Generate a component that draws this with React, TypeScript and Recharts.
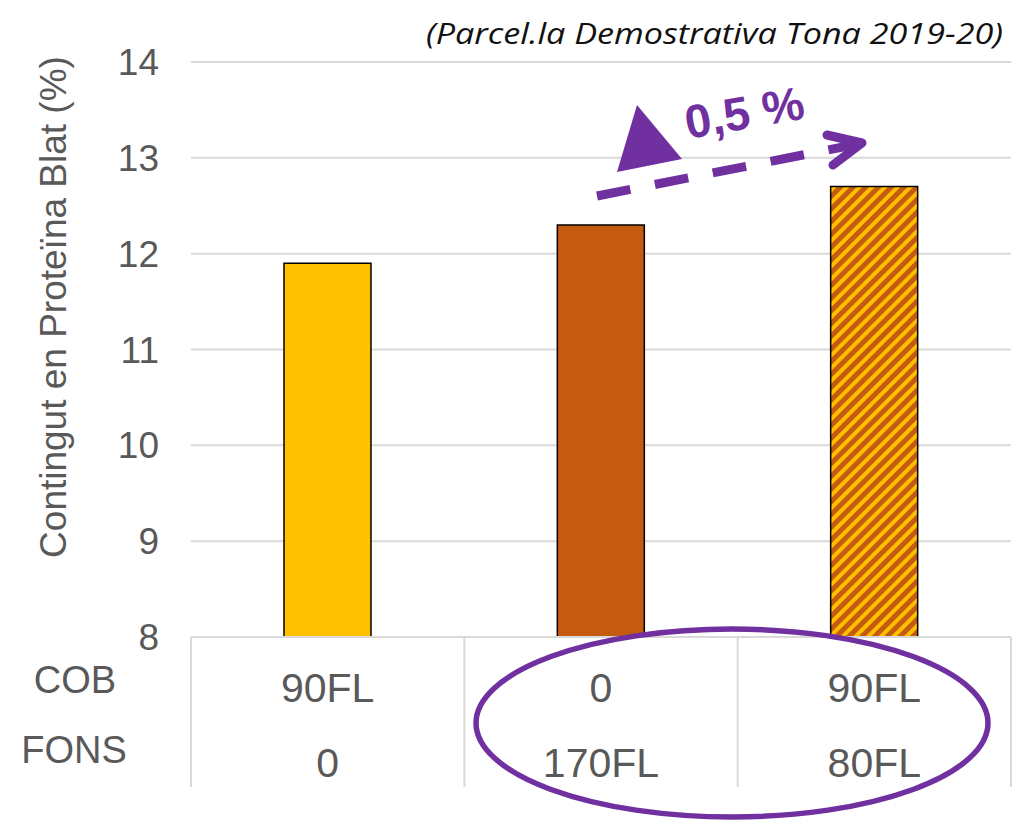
import { Bar, BarChart, CartesianGrid, Cell, XAxis, YAxis } from "recharts";

const cobDoses = ["90FL", "0", "90FL"];
const fonsDoses = ["0", "170FL", "80FL"];
const proteina = [11.9, 12.3, 12.7];
const barFills = ["#FFC000", "#C55A11", "url(#ratllat)"];
const yTicks = [8, 9, 10, 11, 12, 13, 14];
const rowLabels = ["COB", "FONS"];
const title = "(Parcel.la Demostrativa Tona 2019-20)";
const yLabel = "Contingut en Proteïna Blat (%)";
const increment = "0,5 %";

const W = 1025;
const H = 822;
const PLOT_LEFT = 191;
const PLOT_RIGHT = 1011;
const PLOT_TOP = 62;
const PLOT_BOTTOM = 637;
const GREY = "#595959";
const GRID = "#D9D9D9";
const PURPLE = "#7030A0";
const ARIAL = "'Liberation Sans', Arial, sans-serif";

const data = proteina.map((value, i) => ({
  name: `${cobDoses[i]} / ${fonsDoses[i]}`,
  cob: cobDoses[i],
  fons: fonsDoses[i],
  value,
}));

function TableTick(props: any) {
  const { x, y, index } = props;
  const band = (PLOT_RIGHT - PLOT_LEFT) / data.length;
  const row = data[index];
  return (
    <g>
      {index === 0 && (
        <>
          <line x1={x - band / 2} x2={x - band / 2} y1={y} y2={y + 150} stroke={GRID} strokeWidth={2} />
          <text x={75} y={y + 56} textAnchor="middle" fill={GREY} fontSize={38} fontFamily={ARIAL}>
            {rowLabels[0]}
          </text>
          <text x={74} y={y + 126} textAnchor="middle" fill={GREY} fontSize={38} fontFamily={ARIAL}>
            {rowLabels[1]}
          </text>
        </>
      )}
      <line x1={x + band / 2} x2={x + band / 2} y1={y} y2={y + 150} stroke={GRID} strokeWidth={2} />
      <text x={x} y={y + 65} textAnchor="middle" fill={GREY} fontSize={41} fontFamily={ARIAL}>
        {row.cob}
      </text>
      <text x={x} y={y + 140} textAnchor="middle" fill={GREY} fontSize={41} fontFamily={ARIAL}>
        {row.fons}
      </text>
    </g>
  );
}

export default function App() {
  return (
    <div style={{ position: "absolute", left: 0, top: 0, width: W, height: H, background: "#fff" }}>
      <BarChart
        width={W}
        height={H}
        data={data}
        margin={{ top: PLOT_TOP, right: W - PLOT_RIGHT, bottom: 0, left: 0 }}
      >
        <defs>
          <pattern
            id="ratllat"
            patternUnits="userSpaceOnUse"
            width={9}
            height={9}
            patternTransform="rotate(45)"
          >
            <rect width={9} height={9} fill="#C55A11" />
            <rect width={4} height={9} fill="#FFC000" />
          </pattern>
        </defs>
        <CartesianGrid vertical={false} stroke={GRID} strokeWidth={2} />
        <XAxis
          dataKey="name"
          height={H - PLOT_BOTTOM}
          axisLine={{ stroke: GRID, strokeWidth: 2 }}
          tickLine={false}
          tickSize={0}
          tickMargin={0}
          interval={0}
          tick={<TableTick />}
        />
        <YAxis
          width={PLOT_LEFT}
          domain={[8, 14]}
          ticks={yTicks}
          axisLine={false}
          tickLine={false}
          tickSize={0}
          tickMargin={32}
          tick={{ fill: GREY, fontSize: 37, fontFamily: ARIAL }}
        />
        <Bar dataKey="value" barSize={87} stroke="#000" strokeWidth={1.5} isAnimationActive={false}>
          {data.map((d, i) => (
            <Cell key={d.name} fill={barFills[i]} />
          ))}
        </Bar>
      </BarChart>
      <svg
        width={W}
        height={H}
        style={{ position: "absolute", left: 0, top: 0, pointerEvents: "none" }}
      >
        <text
          x={1003}
          y={44}
          textAnchor="end"
          fontSize={29}
          fontStyle="italic"
          fontFamily="'Open Sans', sans-serif"
          fill="#111"
          textLength={577}
          lengthAdjust="spacingAndGlyphs"
        >
          {title}
        </text>
        <text
          transform="translate(66, 307) rotate(-90)"
          textAnchor="middle"
          fontSize={37}
          fontFamily={ARIAL}
          fill={GREY}
        >
          {yLabel}
        </text>
        <line
          x1={597}
          y1={196}
          x2={858}
          y2={144}
          stroke={PURPLE}
          strokeWidth={9}
          strokeDasharray="34 25"
        />
        <polyline
          points="827,135 862,143 833,165"
          fill="none"
          stroke={PURPLE}
          strokeWidth={9}
          strokeLinecap="round"
          strokeLinejoin="round"
        />
        <polygon points="637,105 617,172 682,159" fill={PURPLE} />
        <text
          transform="translate(688, 139) rotate(-10)"
          fontSize={47}
          fontWeight="bold"
          fontFamily={ARIAL}
          fill={PURPLE}
        >
          {increment}
        </text>
        <ellipse cx={732} cy={723} rx={256} ry={94} fill="none" stroke={PURPLE} strokeWidth={5.5} />
      </svg>
    </div>
  );
}
